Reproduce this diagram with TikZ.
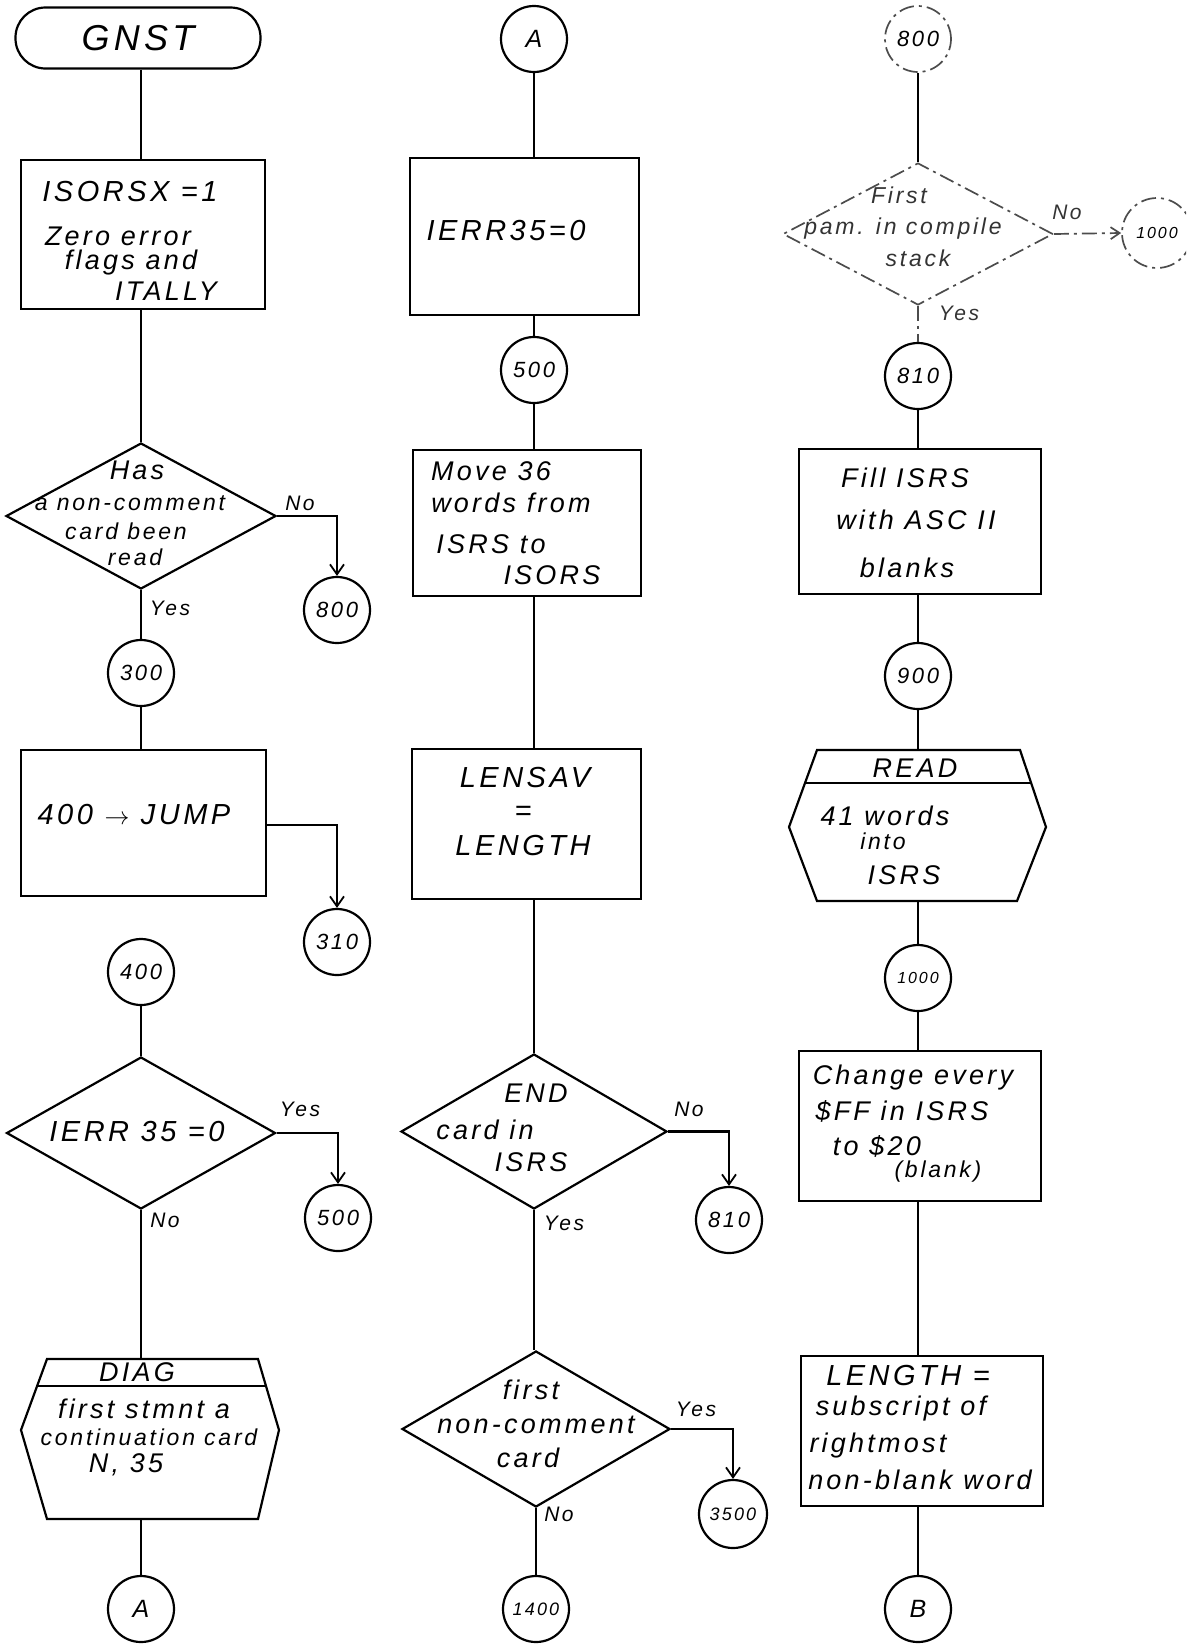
\documentclass[tikz,border=0pt]{standalone}
\usepackage{fontspec}
\usetikzlibrary{shapes.geometric,arrows.meta}
\newfontfamily\hand{Liberation Sans}[LetterSpace=12]
\begin{document}
\begin{tikzpicture}[x=1pt,y=-1pt,
  every node/.style={inner sep=0pt},
  wire/.style={line width=2.2pt},
  flow/.style={wire,-{Straight Barb[length=10pt,width=14pt,line width=1.8pt]}},
  faint/.style={line width=1.7pt,draw=black!70,dash pattern=on 15pt off 5pt on 3pt off 5pt},
  proc/.style={draw,rectangle,line width=2.2pt},
  term/.style={draw,rectangle,rounded corners=30pt,line width=2.2pt,minimum width=245,minimum height=61},
  conn/.style={draw,circle,line width=2.2pt,minimum size=66},
  dec/.style={draw,diamond,line width=2.2pt},
  hexbox/.style={rectangle},
  txt/.style={font=\hand\itshape\fontsize{27}{32}\selectfont},
  mid/.style={font=\hand\itshape\fontsize{23}{27}\selectfont},
  big/.style={font=\hand\itshape\fontsize{29}{34}\selectfont},
  lab/.style={font=\hand\itshape\fontsize{21}{24}\selectfont},
  num/.style={font=\hand\itshape\fontsize{22}{26}\selectfont},
  numfour/.style={font=\hand\itshape\fontsize{18}{21}\selectfont},
  numsm/.style={font=\hand\itshape\fontsize{16}{19}\selectfont},
  letter/.style={font=\hand\itshape\fontsize{25}{29}\selectfont}]
\useasboundingbox (0,0) rectangle (1186,1649);
\clip (0,0) rectangle (1186,1649);

% flow axes of the three columns
\coordinate (colA) at (141,0);
\coordinate (colB) at (534,0);
\coordinate (colC) at (918,0);

% ---------------- left column ----------------
\node[term,font=\hand\itshape\fontsize{36}{40}\selectfont] (start) at (138,38) {GNST};
\node[proc,minimum width=244,minimum height=149] (init) at (143,234.5) {};
\node[big] (t1a) at (130,192) {ISORSX =1};
\node[txt] (t1b) at (118,236) {Zero error};
\node[txt] (t1c) at (131,263) {flags and};
\node[txt] (t1d) at (166,291) {ITALLY};

\node[dec,minimum width=270,minimum height=146] (qcard) at (141,516) {};
\node[txt] (t2a) at (137,470) {Has};
\node[mid] (t2b) at (130,503) {a non-comment};
\node[mid] (t2c) at (126,531) {card been};
\node[mid] (t2d) at (135,557) {read};
\node[lab] (l2no) at (300,503) {No};
\node[lab] (l2yes) at (170,608) {Yes};
\node[conn,num] (c800a) at (337,610) {800};
\node[conn,num] (c300) at (141,673) {300};

\node[proc,minimum width=245,minimum height=146] (jump) at (143.5,823) {};
\node[big] (t3) at (134,815) {400 $\rightarrow$ JUMP};
\node[conn,num] (c310) at (337,942) {310};
\node[conn,num] (c400) at (141,972) {400};

\node[dec,minimum width=269,minimum height=152] (qerr) at (141,1133) {};
\node[big] (t4) at (137,1132) {IERR 35 =0};
\node[lab] (l4yes) at (300,1109) {Yes};
\node[lab] (l4no) at (165,1220) {No};
\node[conn,num] (c500a) at (338,1218) {500};

\node[hexbox,minimum width=258,minimum height=160] (diag) at (150,1439) {};
\draw[wire] (47,1359) -- (258,1359) -- (279,1430) -- (258,1519) -- (47,1519) -- (21,1430) -- cycle;
\draw[wire] (37,1386) -- (266,1386);
\node[txt] (t5a) at (137,1372) {DIAG};
\node[txt] (t5b) at (144,1409) {first stmnt a};
\node[mid] (t5c) at (149,1437) {continuation card};
\node[txt] (t5d) at (126,1465) {N, 35};
\node[conn,letter] (cA1) at (141,1609) {A};

\draw[wire] (colA |- start.south) -- (colA |- init.north);
\draw[wire] (colA |- init.south) -- (qcard.north);
\draw[flow] (qcard.east) -| (c800a.north);
\draw[wire] (qcard.south) -- (c300.north);
\draw[wire] (c300.south) -- (colA |- jump.north);
\draw[flow] (jump.east) ++(0,2) -| (c310.north);
\draw[wire] (c400.south) -- (qerr.north);
\draw[flow] (qerr.east) -| (c500a.north);
\draw[wire] (qerr.south) -- (colA |- diag.north);
\draw[wire] (colA |- diag.south) -- (cA1.north);

% ---------------- middle column ----------------
\node[conn,letter] (cA2) at (534,39) {A};
\node[proc,minimum width=229,minimum height=157] (clr) at (524.5,236.5) {};
\node[big] (t6) at (506,231) {IERR35=0};
\node[conn,num] (c500b) at (534,370) {500};
\node[proc,minimum width=228,minimum height=146] (move) at (527,523) {};
\node[txt] (t7a) at (491,471) {Move 36};
\node[txt] (t7b) at (511,503) {words from};
\node[txt] (t7c) at (491,544) {ISRS to};
\node[txt] (t7d) at (552,575) {ISORS};
\node[proc,minimum width=229,minimum height=150] (sav) at (526.5,824) {};
\node[big] (t8a) at (525,778) {LENSAV};
\node[big] (t8b) at (523,813) {=};
\node[big] (t8c) at (523,846) {LENGTH};

\node[dec,minimum width=266,minimum height=155] (qend) at (534,1131.5) {};
\node[txt] (t9a) at (536,1093) {END};
\node[txt] (t9b) at (485,1130) {card in};
\node[txt] (t9c) at (531,1162) {ISRS};
\node[lab] (l9no) at (689,1109) {No};
\node[lab] (l9yes) at (564,1223) {Yes};
\node[conn,num] (c810a) at (729,1220) {810};

\node[dec,minimum width=268,minimum height=156] (qfirst) at (536,1429) {};
\node[txt] (t10a) at (531,1390) {first};
\node[txt] (t10b) at (536,1425) {non-comment};
\node[txt] (t10c) at (528,1458) {card};
\node[lab] (l10yes) at (696,1409) {Yes};
\node[lab] (l10no) at (559,1514) {No};
\node[conn,numfour,minimum size=68] (c3500) at (733,1514) {3500};
\node[conn,numfour] (c1400) at (536,1609) {1400};

\draw[wire] (cA2.south) -- (colB |- clr.north);
\draw[wire] (colB |- clr.south) -- (c500b.north);
\draw[wire] (c500b.south) -- (colB |- move.north);
\draw[wire] (colB |- move.south) -- (colB |- sav.north);
\draw[wire] (colB |- sav.south) -- (qend.north);
\draw[flow] (qend.east) -| (c810a.north);
\draw[wire] (qend.south) -- (colB |- qfirst.north);
\draw[flow] (qfirst.east) -| (c3500.north);
\draw[wire] (qfirst.south) -- (c1400.north);

% ---------------- right column ----------------
\node[conn,num,faint] (c800b) at (918,39) {800};
\node[dec,faint,minimum width=270,minimum height=142] (qpam) at (918,234) {};
\node[mid,text=black!80] (t11a) at (899,195) {First};
\node[mid,text=black!80] (t11b) at (903,229) {pam. in compile};
\node[mid,text=black!80] (t11c) at (918,258) {stack};
\node[lab,text=black!80] (l11no) at (1067,212) {No};
\node[lab,text=black!80] (l11yes) at (959,313) {Yes};
\node[conn,numsm,faint,minimum size=70] (c1000a) at (1157,233) {1000};
\node[conn,num] (c810b) at (918,376) {810};

\node[proc,minimum width=242,minimum height=145] (fill) at (920,521.5) {};
\node[txt] (t12a) at (905,478) {Fill ISRS};
\node[txt] (t12b) at (916,520) {with ASC II};
\node[txt] (t12c) at (907,568) {blanks};
\node[conn,num] (c900) at (918,676) {900};

\node[hexbox,minimum width=257,minimum height=151] (readd) at (917.5,825.5) {};
\draw[wire] (817,750) -- (1020,750) -- (1046,827) -- (1017,901) -- (817,901) -- (789,827) -- cycle;
\draw[wire] (805,783) -- (1031,783);
\node[txt] (t13a) at (915,768) {READ};
\node[txt] (t13b) at (885,816) {41 words};
\node[mid] (t13c) at (883,841) {into};
\node[txt] (t13d) at (904,875) {ISRS};
\node[conn,numsm] (c1000b) at (918,978) {1000};

\node[proc,minimum width=242,minimum height=150] (chg) at (920,1126) {};
\node[txt] (t14a) at (913,1078) {Change every};
\node[txt] (t14b) at (902,1111) {\$FF in ISRS};
\node[txt] (t14c) at (877,1146) {to \$20};
\node[mid] (t14d) at (938,1172) {(blank)};

\node[proc,minimum width=242,minimum height=150] (len) at (922,1431) {};
\node[big] (t15a) at (908,1375) {LENGTH =};
\node[txt] (t15b) at (901,1409) {subscript of};
\node[txt] (t15c) at (878,1446) {rightmost};
\node[txt] (t15d) at (920,1480) {non-blank word};
\node[conn,letter] (cB) at (918,1609) {B};

\draw[wire] (c800b.south) -- (qpam.north);
\draw[faint,-{Straight Barb[length=9pt,width=12pt]}] (qpam.east) -- (c1000a.west);
\draw[faint] (qpam.south) -- (c810b.north);
\draw[wire] (c810b.south) -- (colC |- fill.north);
\draw[wire] (colC |- fill.south) -- (c900.north);
\draw[wire] (c900.south) -- (colC |- readd.north);
\draw[wire] (colC |- readd.south) -- (c1000b.north);
\draw[wire] (c1000b.south) -- (colC |- chg.north);
\draw[wire] (colC |- chg.south) -- (colC |- len.north);
\draw[wire] (colC |- len.south) -- (cB.north);
\end{tikzpicture}
\end{document}
